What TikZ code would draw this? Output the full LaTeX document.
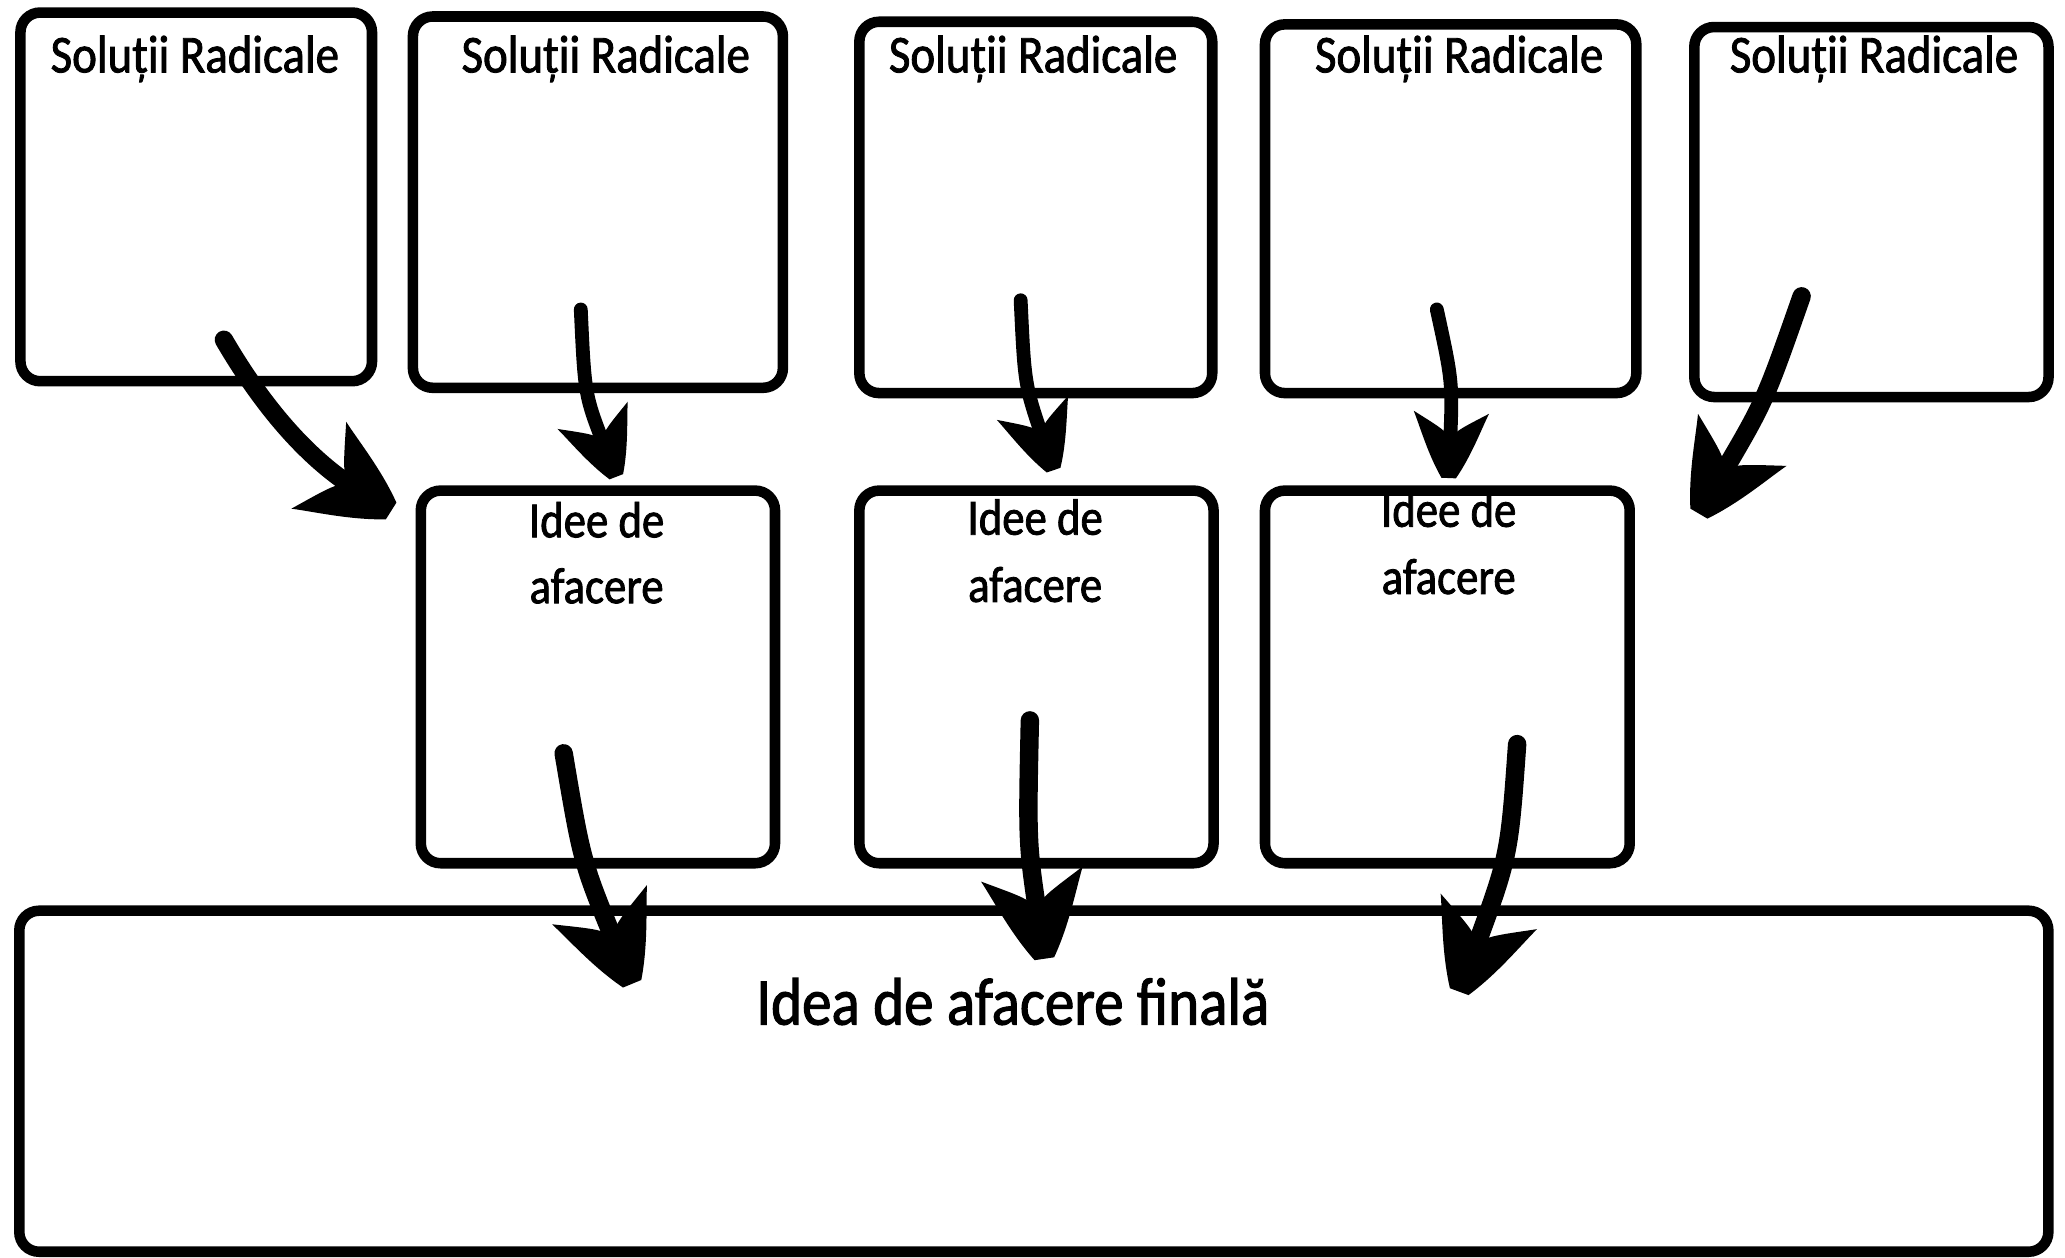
\documentclass[tikz,border=0pt]{standalone}
\usepackage{fontspec}
\setmainfont{Carlito}[FakeStretch=0.88, FakeBold=1.6]
\usetikzlibrary{arrows.meta}
\pgfdeclarearrow{
  name = HandTip,
  parameters = {\the\pgfarrowlength,\the\pgfarrowwidth},
  setup code = {
    \pgfarrowssettipend{0pt}
    \pgfarrowssetlineend{-0.5\pgfarrowlength}
    \pgfarrowssetvisualbackend{-\pgfarrowlength}
    \pgfarrowssetbackend{-\pgfarrowlength}
    \pgfarrowshullpoint{0pt}{0pt}
    \pgfarrowsupperhullpoint{-\pgfarrowlength}{.5\pgfarrowwidth}
    \pgfarrowssavethe\pgfarrowlength
    \pgfarrowssavethe\pgfarrowwidth
  },
  drawing code = {
    \pgfpathmoveto{\pgfqpoint{0pt}{0.1\pgfarrowwidth}}
    \pgfpathcurveto{\pgfqpoint{-0.35\pgfarrowlength}{0.3\pgfarrowwidth}}
                   {\pgfqpoint{-0.75\pgfarrowlength}{0.42\pgfarrowwidth}}
                   {\pgfqpoint{-\pgfarrowlength}{0.52\pgfarrowwidth}}
    \pgfpathcurveto{\pgfqpoint{-0.86\pgfarrowlength}{0.3\pgfarrowwidth}}
                   {\pgfqpoint{-0.76\pgfarrowlength}{0.13\pgfarrowwidth}}
                   {\pgfqpoint{-0.68\pgfarrowlength}{0.06\pgfarrowwidth}}
    \pgfpathlineto{\pgfqpoint{-0.68\pgfarrowlength}{-0.06\pgfarrowwidth}}
    \pgfpathcurveto{\pgfqpoint{-0.76\pgfarrowlength}{-0.13\pgfarrowwidth}}
                   {\pgfqpoint{-0.86\pgfarrowlength}{-0.3\pgfarrowwidth}}
                   {\pgfqpoint{-\pgfarrowlength}{-0.52\pgfarrowwidth}}
    \pgfpathcurveto{\pgfqpoint{-0.75\pgfarrowlength}{-0.42\pgfarrowwidth}}
                   {\pgfqpoint{-0.35\pgfarrowlength}{-0.3\pgfarrowwidth}}
                   {\pgfqpoint{0pt}{-0.1\pgfarrowwidth}}
    \pgfpathclose
    \pgfusepathqfill
  },
  defaults = {length=1.2cm, width=1.5cm}
}
\tikzset{
  box/.style={draw=black, line width=0.16cm, rounded corners=0.3cm, fill=white, inner sep=0pt},
  lbl/.style={inner sep=0pt, anchor=base, font=\fontsize{23}{28}\selectfont},
  midlbl/.style={inner sep=0pt, anchor=base, font=\fontsize{22}{28}\selectfont, align=center},
  finlbl/.style={inner sep=0pt, anchor=base, font=\fontsize{29}{34}\selectfont},
  bigarrow/.style={line width=0.28cm, line cap=round, black,
    -{HandTip[length=1.3cm, width=1.5cm]}},
  smallarrow/.style={line width=0.21cm, line cap=round, black,
    -{HandTip[length=1.0cm, width=1.1cm]}}
}
\begin{document}
\begin{tikzpicture}[x=0.02cm, y=-0.02cm]
\useasboundingbox[fill=white] (0,0) rectangle (1568,955);
% top boxes
\node[box, minimum width=5.34cm, minimum height=5.6cm]  (b1) at (149,149.5) {};
\node[box, minimum width=5.62cm, minimum height=5.64cm] (b2) at (454,153.5) {};
\node[box, minimum width=5.36cm, minimum height=5.64cm] (b3) at (786.5,157.5) {};
\node[box, minimum width=5.64cm, minimum height=5.6cm]  (b4) at (1101.5,158.5) {};
\node[box, minimum width=5.38cm, minimum height=5.62cm] (b5) at (1421,161) {};
% middle boxes
\node[box, minimum width=5.38cm, minimum height=5.66cm] (m1) at (454,514) {};
\node[box, minimum width=5.38cm, minimum height=5.66cm] (m2) at (787,514) {};
\node[box, minimum width=5.54cm, minimum height=5.66cm] (m3) at (1099,514) {};
% bottom box
\node[box, minimum width=30.82cm, minimum height=5.18cm] (fin) at (785,821) {};
% labels
\node[lbl] (t1) at (148,55) {Soluții Radicale};
\node[lbl] (t2) at (460,55) {Soluții Radicale};
\node[lbl] (t3) at (784.5,55) {Soluții Radicale};
\node[lbl] (t4) at (1108,55) {Soluții Radicale};
\node[lbl] (t5) at (1423,55) {Soluții Radicale};
\node[midlbl] (i1a) at (453,408) {Idee de};
\node[midlbl] (i1b) at (453,458) {afacere};
\node[midlbl] (i2a) at (786,406) {Idee de};
\node[midlbl] (i2b) at (786,457) {afacere};
\node[midlbl] (i3a) at (1100,400) {Idee de};
\node[midlbl] (i3b) at (1100,451) {afacere};
\node[finlbl] (ft) at (769,778) {Idea de afacere finală};
% arrow end points
\coordinate (a1s) at (170,258);  \coordinate (a1e) at (297,388);
\coordinate (a2s) at (441,235);  \coordinate (a2e) at (468,362);
\coordinate (a3s) at (775,228);  \coordinate (a3e) at (800,357);
\coordinate (a4s) at (1091,235); \coordinate (a4e) at (1100,363);
\coordinate (a5s) at (1368,225); \coordinate (a5e) at (1290,390);
\coordinate (a6s) at (428,572);  \coordinate (a6e) at (480,747);
\coordinate (a7s) at (782,547);  \coordinate (a7e) at (793,728);
\coordinate (a8s) at (1152,565); \coordinate (a8e) at (1108,753);
% arrows
\draw[bigarrow] (a1s) .. controls (205,318) and (240,352) .. (a1e);
\draw[smallarrow] (a2s) .. controls (444,300) .. (a2e);
\draw[smallarrow] (a3s) .. controls (778,292) .. (a3e);
\draw[smallarrow] (a4s) .. controls (1103,290) .. (a4e);
\draw[bigarrow] (a5s) .. controls (1340,305) .. (a5e);
\draw[bigarrow] (a6s) .. controls (442,655) .. (a6e);
\draw[bigarrow] (a7s) .. controls (780,640) .. (a7e);
\draw[bigarrow] (a8s) .. controls (1146,650) .. (a8e);
\end{tikzpicture}
\end{document}
